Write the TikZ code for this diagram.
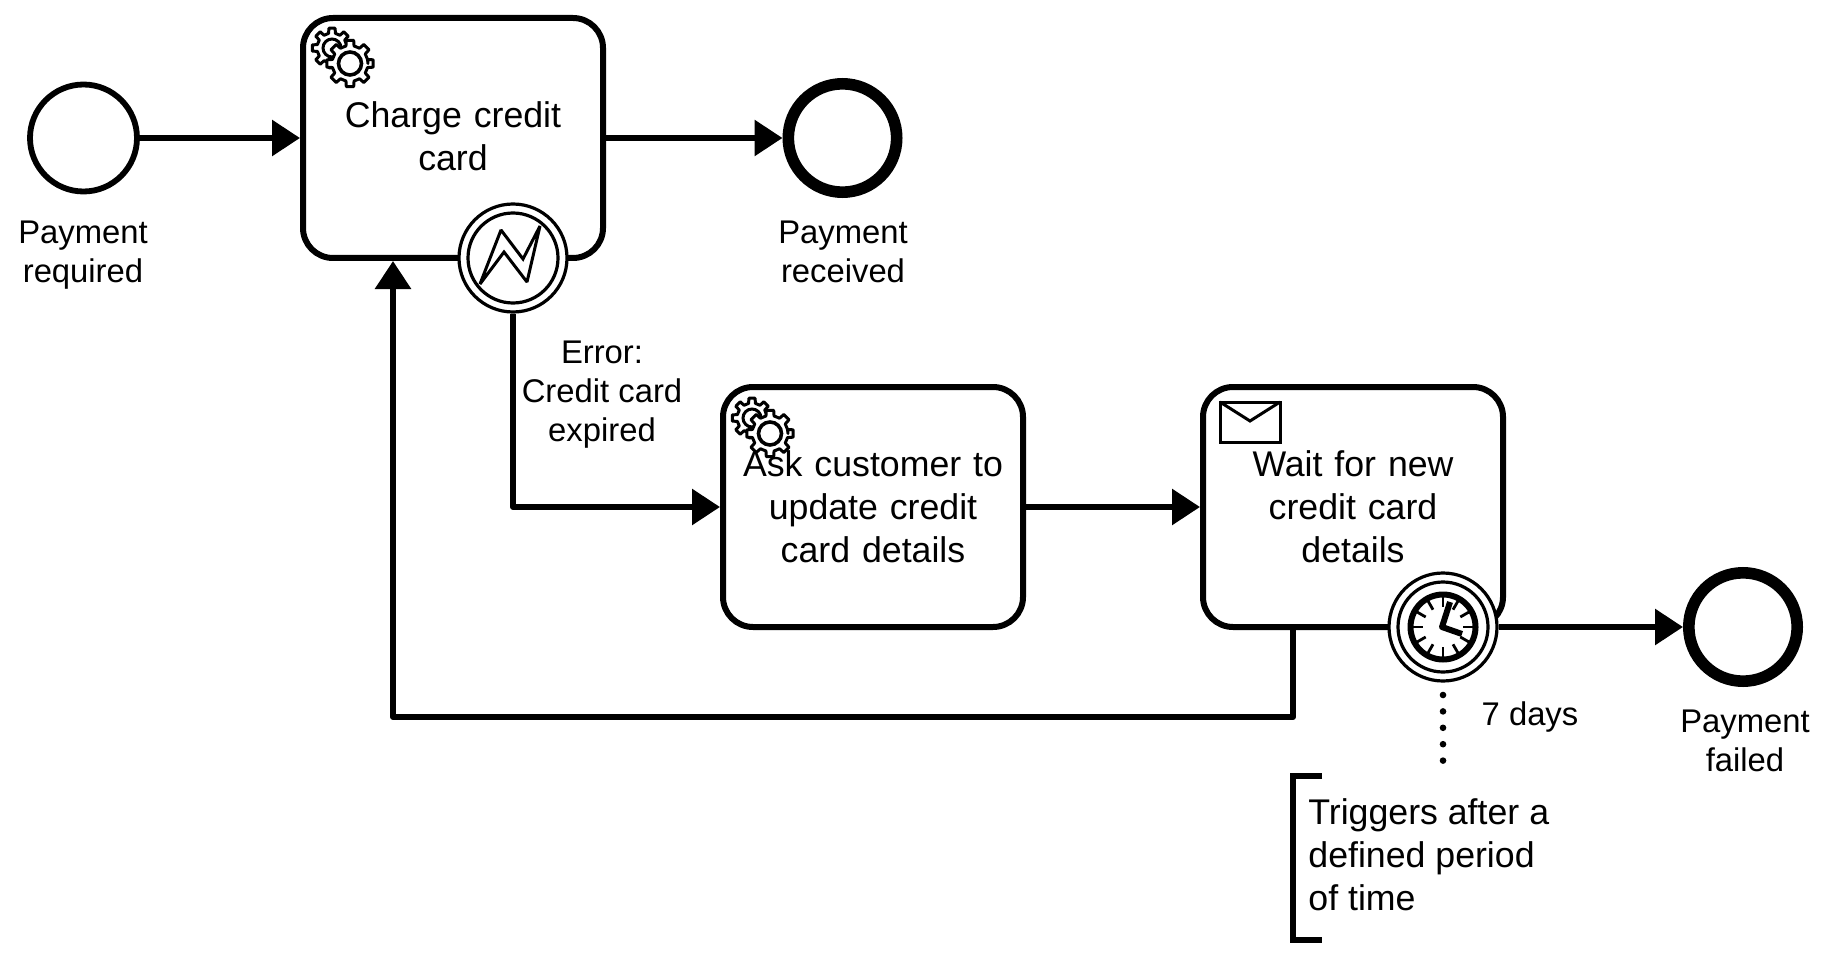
\documentclass[tikz,border=0pt]{standalone}
\usepackage{fontspec}
\setmainfont{Liberation Sans}
\usetikzlibrary{arrows.meta,calc}
\tikzset{%
	taskbox/.style  = {draw, rectangle, rounded corners=15pt, line width=3pt, minimum width=150pt, minimum height=120pt, text width=132pt, align=center, inner sep=0pt, font=\fontsize{17.85}{21.5}\selectfont},
	startev/.style  = {draw, circle, fill=white, line width=2.9pt, minimum size=53.5pt, inner sep=0pt},
	endev/.style    = {draw, circle, fill=white, line width=5.8pt, minimum size=54.2pt, inner sep=0pt},
	ring/.style     = {draw, circle, fill=white, line width=1.6pt, inner sep=0pt},
	evlabel/.style  = {align=center, inner sep=0pt, font=\fontsize{16.4}{19.5}\selectfont},
	flow/.style     = {line width=3pt, line join=round, -{Triangle[length=14pt,width=17.5pt]}},
	gearteeth/.style= {draw, fill=white, line width=1.5pt, line join=round},
	gears/.pic      = {
		\draw[gearteeth] (0:16)
			\foreach \a in {0,45,...,315} {
				-- (\a-13:15) -- (\a-9:20) -- (\a+9:20) -- (\a+13:15) -- (\a+32:15)
			} -- cycle;
		\draw[line width=1.5pt] (0,0) circle (9);
		\draw[gearteeth] (18,15.5) ++(0:18)
			\foreach \a in {0,45,...,315} {
				-- ($(18,15.5)+(\a-13:18)$) -- ($(18,15.5)+(\a-9:23.5)$) -- ($(18,15.5)+(\a+9:23.5)$) -- ($(18,15.5)+(\a+13:18)$) -- ($(18,15.5)+(\a+32:18)$)
			} -- cycle;
		\draw[line width=1.8pt] (18,15.5) circle (11.5);
	},
}

\begin{document}
\begin{tikzpicture}[x=0.5pt,y=-0.5pt]
	\useasboundingbox (0,0) rectangle (1830,957);

	% service task icons go underneath the task text
	\pic at (332,48) {gears};
	\pic at (752,418) {gears};

	% tasks
	\node[taskbox] (charge) at (453,138) {Charge credit\\card\rule[-2.4pt]{0pt}{0pt}};
	\node[taskbox] (ask) at (873,507) {Ask customer to\\update credit\\card details};
	\node[taskbox] (wait) at (1353,507) {Wait for new\\credit card\\details};

	% receive task envelope
	\draw[line width=1.5pt, line join=miter] (1220,402) rectangle (1280,442);
	\draw[line width=1.5pt, line join=miter] (1220,402) -- (1250,421) -- (1280,402);

	% start and end events
	\node[startev] (required) at (83.5,138) {};
	\node[endev] (received) at (842.5,138) {};
	\node[endev] (failed) at (1743,627) {};
	\node[evlabel] (requiredtxt) at (83,255.5) {Payment\\required};
	\node[evlabel] (receivedtxt) at (843,252) {Payment\\received};
	\node[evlabel] (failedtxt) at (1745,741) {Payment\\failed};

	% boundary error event
	\node[ring, minimum size=54pt] (errorev) at (513,258) {};
	\node[ring, minimum size=45pt] (errorin) at (513,258) {};
	\draw[line width=1.5pt, line join=miter, miter limit=2] (480,284) -- (501,230) -- (523,259) -- (540,226) -- (527,282) -- (504,252) -- cycle;

	% boundary timer event
	\node[ring, minimum size=54pt] (timerev) at (1443,627) {};
	\node[ring, minimum size=45pt] (timerin) at (1443,627) {};
	\node[draw, circle, line width=3pt, minimum size=32.5pt, inner sep=0pt] (clock) at (1443,627) {};
	\foreach \a in {0,30,...,330}
		\draw[line width=1.4pt] (1443,627) ++(\a:31) -- ++(\a:-11);
	\draw[line width=3pt, line join=round] (1450,602) -- (1442,627) -- (1462,634);

	% sequence flows
	\draw[flow] (required.east) -- (charge.west);
	\draw[flow] (charge.east) -- (received.west);
	\draw[flow] (errorev.south) |- (ask.west);
	\draw[flow] (ask.east) -- (wait.west);
	\draw[flow] (timerev.east) -- (failed.west);
	\coordinate (backout) at (1293,717);
	\coordinate (backin) at (393,717);
	\draw[flow] (wait.south -| backout) -- (backout) -- (backin) -- (backin |- charge.south);

	% flow labels
	\node[evlabel] (errortxt) at (602,395) {Error:\\Credit card\\expired};
	\node[evlabel] (timertxt) at (1530,717) {7 days};

	% annotation
	\node[align=left, anchor=west, inner sep=0pt, font=\fontsize{17.85}{21.5}\selectfont] (note) at (1308,855) {Triggers after a\\defined period\\of time};
	\coordinate (notetop) at (1322,776);
	\coordinate (notebot) at (1322,940);
	\draw[line width=2.9pt] (notetop) -- ++(-29,0) |- (notebot);
	\coordinate (dotsA) at (1443,695);
	\coordinate (dotsB) at (1443,762);
	\draw[line width=3.3pt, line cap=round, dash pattern=on 0pt off 8.2pt] (dotsA) -- (dotsB);
\end{tikzpicture}
\end{document}
